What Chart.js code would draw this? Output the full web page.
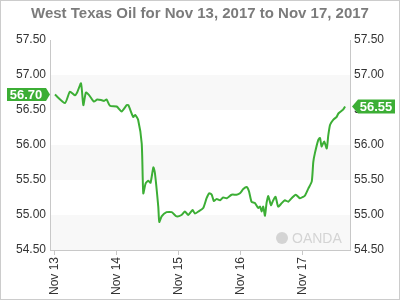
<!DOCTYPE html>
<html>
<head>
<meta charset="utf-8">
<script src="https://cdn.jsdelivr.net/npm/chart.js@4.4.1/dist/chart.umd.min.js"></script>
<style>
    html, body { margin: 0; padding: 0; background: #fff; }
    canvas { display: block; }
</style>
</head>
<body>
<canvas id="oilChart" width="400" height="300"></canvas>
<script>
    // hours since Nov 13 00:00
    var hours = [0, 3.9, 5.8, 7.7, 8.6, 10.1, 11.0, 12.0, 13.3, 15.1, 16.4, 18.1, 19.0, 20.0, 21.3,
        23.9, 25.8, 27.8, 28.4, 30.3, 31.0, 32.2, 33.6, 34.2, 35.1, 36.1, 37.0, 38.1, 38.7, 40.0,
        40.4, 41.3, 43.2, 45.2, 47.1, 49.0, 50.3, 51.6, 53.3, 54.2, 55.5, 57.4, 58.7, 59.7, 60.7,
        61.5, 62.6, 63.9, 65.1, 66.5, 68.4, 70.3, 71.6, 72.9, 74.2, 75.1, 76.1, 77.4, 78.7, 79.4,
        80.0, 80.6, 81.3, 81.9, 82.6, 83.6, 84.5, 85.4, 86.4, 87.8, 89.0, 90.3, 91.6, 93.2, 94.8,
        96.1, 96.8, 98.1, 99.4, 100.0, 100.6, 101.9, 102.6, 103.2, 104.2, 105.2, 105.8, 106.5,
        107.7, 109.0, 109.7, 111.0, 111.6, 112.3];
    var prices = [56.72, 56.60, 56.76, 56.71, 56.75, 56.88, 56.57, 56.75, 56.71, 56.62, 56.65, 56.64, 56.63, 56.65, 56.56,
        56.55, 56.48, 56.57, 56.57, 56.40, 56.43, 56.36, 56.02, 55.31, 55.45, 55.49, 55.46, 55.68, 55.60, 55.12,
        54.90, 54.98, 55.04, 55.04, 54.98, 55.00, 55.05, 55.00, 55.07, 55.02, 55.05, 55.10, 55.24, 55.31, 55.29,
        55.20, 55.23, 55.21, 55.25, 55.24, 55.29, 55.29, 55.31, 55.37, 55.40, 55.34, 55.19, 55.17, 55.10, 55.12,
        55.05, 55.12, 54.99, 55.17, 55.27, 55.14, 55.21, 55.26, 55.12, 55.17, 55.21, 55.19, 55.24, 55.29, 55.24,
        55.26, 55.28, 55.38, 55.48, 55.76, 55.88, 56.07, 56.10, 55.98, 56.05, 55.95, 56.14, 56.29,
        56.36, 56.40, 56.45, 56.49, 56.51, 56.55];

    var dayTicks = [0, 24, 48, 72, 96];
    var dayLabels = ['Nov 13', 'Nov 14', 'Nov 15', 'Nov 16', 'Nov 17'];
    var priceTicks = [54.5, 55, 55.5, 56, 56.5, 57, 57.5];
    var openLabel = '56.70';
    var lastLabel = '56.55';
    var chartTitle = 'West Texas Oil for Nov 13, 2017 to Nov 17, 2017';

    var GREEN = '#3cae35';
    var FONT = '"Liberation Sans", Arial, sans-serif';

    // Vẽ nền, khung, các dải xám và tiêu đề
    var decorPlugin = {
        id: 'decor',
        beforeDraw: function (chart) {
            var ctx = chart.ctx;
            var area = chart.chartArea;
            var y = chart.scales.y;
            ctx.save();
            ctx.fillStyle = '#fff';
            ctx.fillRect(0, 0, chart.width, chart.height);
            ctx.strokeStyle = '#cccccc';
            ctx.lineWidth = 1;
            ctx.strokeRect(0.5, 0.5, chart.width - 1, chart.height - 1);

            ctx.fillStyle = '#f8f8f8';
            for (var i = 0; i < priceTicks.length - 1; i += 2) {
                var top = y.getPixelForValue(priceTicks[i + 1]);
                var bot = y.getPixelForValue(priceTicks[i]);
                ctx.fillRect(area.left, top, area.right - area.left, bot - top);
            }

            ctx.fillStyle = '#7b7b7b';
            ctx.font = 'bold 15px ' + FONT;
            ctx.textAlign = 'center';
            ctx.textBaseline = 'middle';
            ctx.fillText(chartTitle, chart.width / 2, 14);

            // watermark
            ctx.fillStyle = '#d4d4d4';
            ctx.strokeStyle = '#d4d4d4';
            ctx.beginPath();
            ctx.arc(282, 238, 6, 0, Math.PI * 2);
            ctx.fill();
            ctx.font = '14px ' + FONT;
            ctx.textAlign = 'left';
            ctx.fillText('OANDA', 292, 239);
            ctx.restore();
        },
        afterDatasetsDraw: function (chart) {
            var ctx = chart.ctx;
            var y = chart.scales.y;
            var area = chart.chartArea;
            ctx.save();
            ctx.font = 'bold 13px ' + FONT;
            ctx.textBaseline = 'middle';
            ctx.textAlign = 'center';

            // nhãn giá mở cửa (bên trái)
            var py = y.getPixelForValue(prices[0]);
            ctx.fillStyle = GREEN;
            ctx.beginPath();
            ctx.moveTo(7, py - 6.5);
            ctx.lineTo(area.left - 4, py - 6.5);
            ctx.lineTo(area.left, py);
            ctx.lineTo(area.left - 4, py + 6.5);
            ctx.lineTo(7, py + 6.5);
            ctx.closePath();
            ctx.fill();
            ctx.fillStyle = '#fff';
            ctx.fillText(openLabel, 26, py + 0.5);

            // nhãn giá cuối (bên phải)
            var ly = y.getPixelForValue(prices[prices.length - 1]);
            ctx.fillStyle = GREEN;
            ctx.beginPath();
            ctx.moveTo(area.right + 2, ly);
            ctx.lineTo(area.right + 8, ly - 7);
            ctx.lineTo(395, ly - 7);
            ctx.lineTo(395, ly + 7);
            ctx.lineTo(area.right + 8, ly + 7);
            ctx.closePath();
            ctx.fill();
            ctx.fillStyle = '#fff';
            ctx.fillText(lastLabel, 376, ly + 0.5);
            ctx.restore();
        }
    };

    var points = hours.map(function (h, i) { return { x: h, y: prices[i] }; });

    var yAxis = function (position) {
        return {
            type: 'linear',
            position: position,
            min: 54.5,
            max: 57.5,
            afterBuildTicks: function (scale) {
                scale.ticks = priceTicks.map(function (v) { return { value: v }; });
            },
            afterFit: function (scale) { scale.width = 50; },
            grid: { drawOnChartArea: false, drawTicks: false },
            border: { display: true, color: '#c8c8c8' },
            ticks: {
                color: '#333',
                padding: 4,
                font: { family: FONT, size: 12 },
                callback: function (v) { return v.toFixed(2); }
            }
        };
    };

    new Chart(document.getElementById('oilChart').getContext('2d'), {
        type: 'line',
        data: {
            datasets: [{
                data: points,
                borderColor: GREEN,
                borderWidth: 2,
                pointRadius: 0,
                tension: 0.2,
                fill: false
            }]
        },
        options: {
            responsive: false,
            animation: false,
            layout: { padding: { top: 40, left: 0, right: 0, bottom: 0 } },
            plugins: {
                legend: { display: false },
                tooltip: { enabled: false }
            },
            scales: {
                x: {
                    type: 'linear',
                    min: -1.9,
                    max: 114.2,
                    afterBuildTicks: function (scale) {
                        scale.ticks = dayTicks.map(function (v) { return { value: v }; });
                    },
                    afterFit: function (scale) { scale.height = 50; },
                    grid: { drawOnChartArea: false, tickLength: 5, color: '#c8c8c8' },
                    border: { display: true, color: '#c8c8c8' },
                    ticks: {
                        color: '#333',
                        maxRotation: 90,
                        minRotation: 90,
                        padding: 2,
                        font: { family: FONT, size: 12 },
                        callback: function (v) {
                            var i = dayTicks.indexOf(v);
                            return i >= 0 ? dayLabels[i] : '';
                        }
                    }
                },
                y: yAxis('left'),
                y2: yAxis('right')
            }
        },
        plugins: [decorPlugin]
    });
</script>
</body>
</html>
